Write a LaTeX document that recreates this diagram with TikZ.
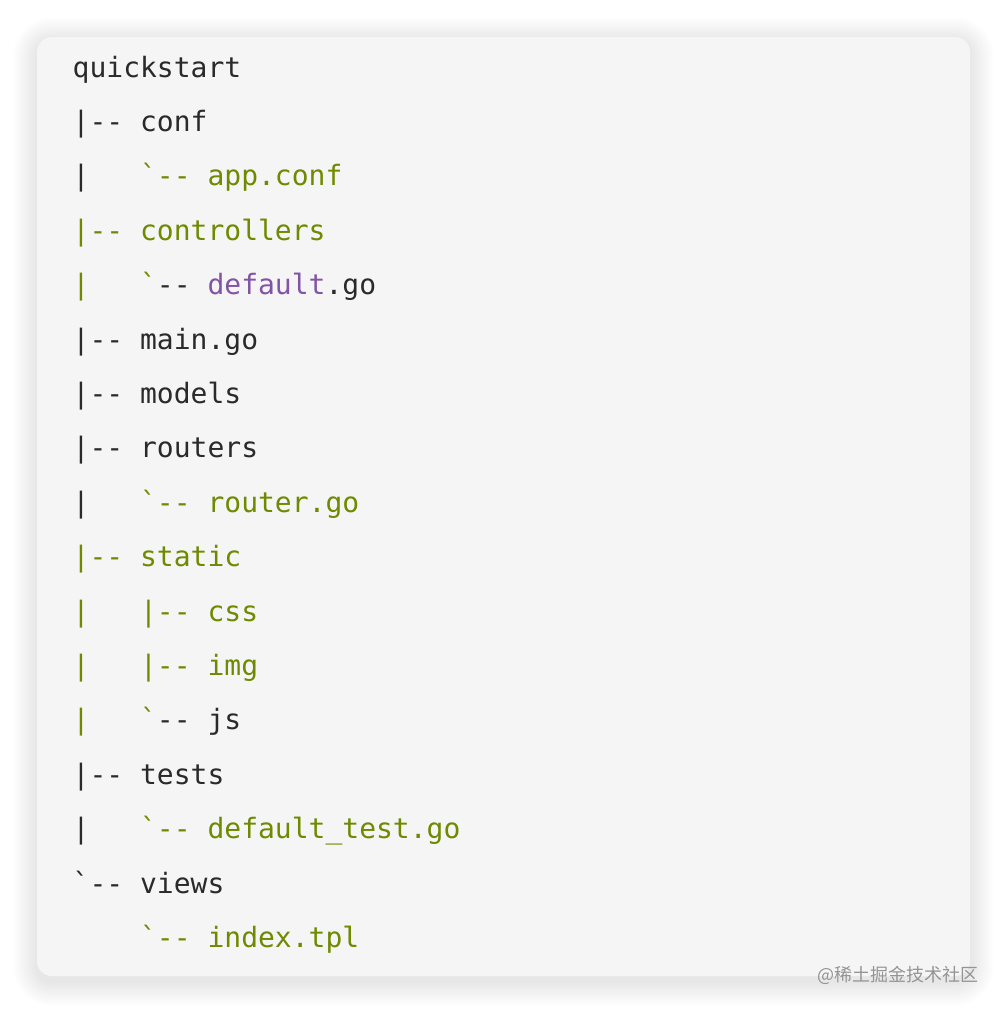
\documentclass[tikz,border=0pt]{standalone}
\usepackage{fontspec}
\setmonofont{DejaVu Sans Mono}
\newfontfamily\cjk{Noto Sans CJK SC}
\definecolor{ink}{HTML}{2A2A2A}
\definecolor{leaf}{HTML}{6F8A00}
\definecolor{plum}{HTML}{8254A6}
\definecolor{card}{HTML}{F5F5F5}
\tikzset{
  line/.style={font=\ttfamily\fontsize{28}{34}\selectfont, anchor=base west, inner sep=0pt, text=ink},
}
\begin{document}
\begin{tikzpicture}[x=1pt, y=-1pt]

  \newcommand\Pitch{54.4}
  \newcommand\Gr[1]{\textcolor{leaf}{#1}}
  \newcommand\Pu[1]{\textcolor{plum}{#1}}

  \useasboundingbox (0,0) rectangle (1006,1012);

  % shadow + card
  \foreach \i in {1,...,24}
    \fill[black, opacity=0.0045, rounded corners=15+\i] (37-\i, 41-\i) rectangle (970+\i, 982+\i);
  \fill[card, rounded corners=15] (37,37) rectangle (970,976);

  \node[line] (quickstart)  at (72.5, 77+0*\Pitch)  {quickstart};
  \node[line] (conf)        at (72.5, 77+1*\Pitch)  {|--~conf};
  \node[line] (appconf)     at (72.5, 77+2*\Pitch)  {|~~~\Gr{`--~app.conf}};
  \node[line] (controllers) at (72.5, 77+3*\Pitch)  {\Gr{|--~controllers}};
  \node[line] (defaultgo)   at (72.5, 77+4*\Pitch)  {\Gr{|~~~`}--~\Pu{default}.go};
  \node[line] (maingo)      at (72.5, 77+5*\Pitch)  {|--~main.go};
  \node[line] (models)      at (72.5, 77+6*\Pitch)  {|--~models};
  \node[line] (routers)     at (72.5, 77+7*\Pitch)  {|--~routers};
  \node[line] (routergo)    at (72.5, 77+8*\Pitch)  {|~~~\Gr{`--~router.go}};
  \node[line] (static)      at (72.5, 77+9*\Pitch)  {\Gr{|--~static}};
  \node[line] (css)         at (72.5, 77+10*\Pitch) {\Gr{|~~~|--~css}};
  \node[line] (img)         at (72.5, 77+11*\Pitch) {\Gr{|~~~|--~img}};
  \node[line] (js)          at (72.5, 77+12*\Pitch) {\Gr{|~~~`}--~js};
  \node[line] (tests)       at (72.5, 77+13*\Pitch) {|--~tests};
  \node[line] (testgo)      at (72.5, 77+14*\Pitch) {|~~~\Gr{`--~default\_test.go}};
  \node[line] (views)       at (72.5, 77+15*\Pitch) {`--~views};
  \node[line] (indextpl)    at (72.5, 77+16*\Pitch) {~~~~\Gr{`--~index.tpl}};

  %% watermark
  \node[font=\cjk\fontsize{18}{22}\selectfont, text=black!42, anchor=east, inner sep=0pt] (watermark) at (979, 975) {@稀土掘金技术社区};
\end{tikzpicture}
\end{document}
